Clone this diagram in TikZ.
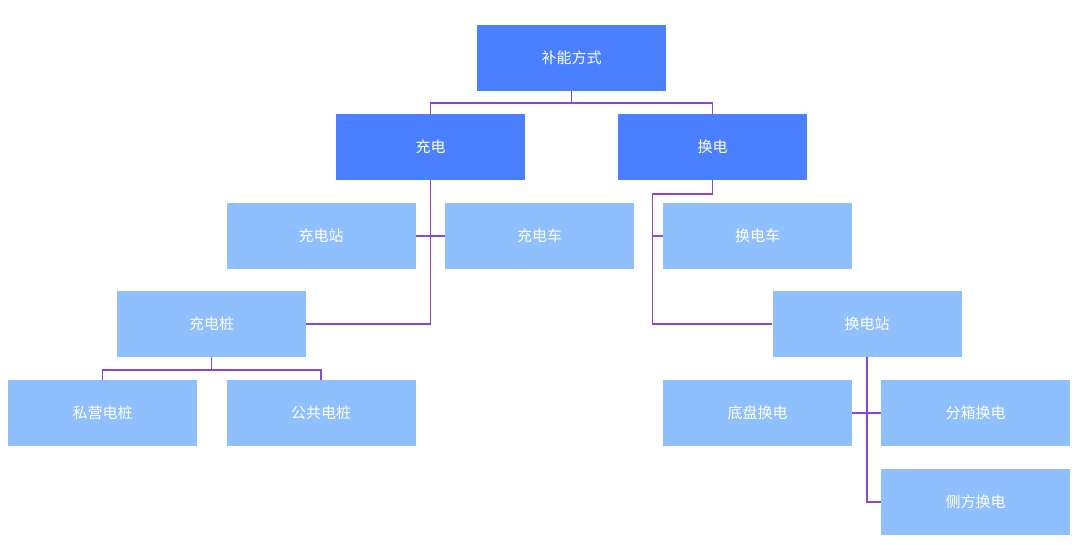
\documentclass[tikz,border=0pt]{standalone}
\usepackage{fontspec}
\setmainfont{Noto Sans CJK SC}
\definecolor{dkblue}{HTML}{4A80FF}
\definecolor{ltblue}{HTML}{8FBFFC}
\definecolor{linec}{HTML}{8B45D6}
\begin{document}
\begin{tikzpicture}[x=1pt,y=-1pt,
  box/.style={rectangle,minimum width=189pt,minimum height=66pt,inner sep=0pt,text=white,font=\fontsize{15}{17}\selectfont},
  topbox/.style={box,fill=dkblue},
  subbox/.style={box,fill=ltblue},
  conn/.style={draw=linec,line width=1.5pt}]
\useasboundingbox (0,0) rectangle (1080,545);
\node[topbox] (root) at (571.5,58) {补能方式};
\node[topbox] (cd) at (430.5,147) {充电};
\node[topbox] (hd) at (712.5,147) {换电};
\node[subbox] (cdz) at (321,236) {充电站};
\node[subbox] (cdc) at (539.5,236) {充电车};
\node[subbox] (cdzh) at (211.5,324) {充电桩};
\node[subbox] (sy) at (102.5,413) {私营电桩};
\node[subbox] (gg) at (321,413) {公共电桩};
\node[subbox] (hdc) at (757.5,236) {换电车};
\node[subbox] (hdz) at (867,324) {换电站};
\node[subbox] (dp) at (757.5,413) {底盘换电};
\node[subbox] (fx) at (975.5,413) {分箱换电};
\node[subbox] (cf) at (975.5,502) {侧方换电};
% root to level 1
\coordinate (b1) at (571.5,103);
\draw[conn] (root.south) -- (b1);
\draw[conn] (cd.north) |- (b1) -| (hd.north);
% 充电 branch
\coordinate (cdv) at (430.5,324);
\draw[conn] (cd.south) -- (cdv) -- (cdzh.east);
\draw[conn] (cdz.east) -- (cdc.west);
% 充电桩 children
\coordinate (b2) at (211.5,370);
\draw[conn] (cdzh.south) -- (b2);
\draw[conn] (sy.north) |- (b2) -| (gg.north);
% 换电 branch
\coordinate (hd1) at (712.5,194);
\coordinate (hd2) at (652.5,194);
\draw[conn] (hd.south) -- (hd1) -- (hd2) |- (hdz.west);
\draw[conn] (hd2 |- hdc.west) -- (hdc.west);
% 换电站 children
\coordinate (hv) at (867,502);
\draw[conn] (hdz.south) -- (hv) -- (cf.west);
\draw[conn] (dp.east) -- (fx.west);
\end{tikzpicture}
\end{document}
